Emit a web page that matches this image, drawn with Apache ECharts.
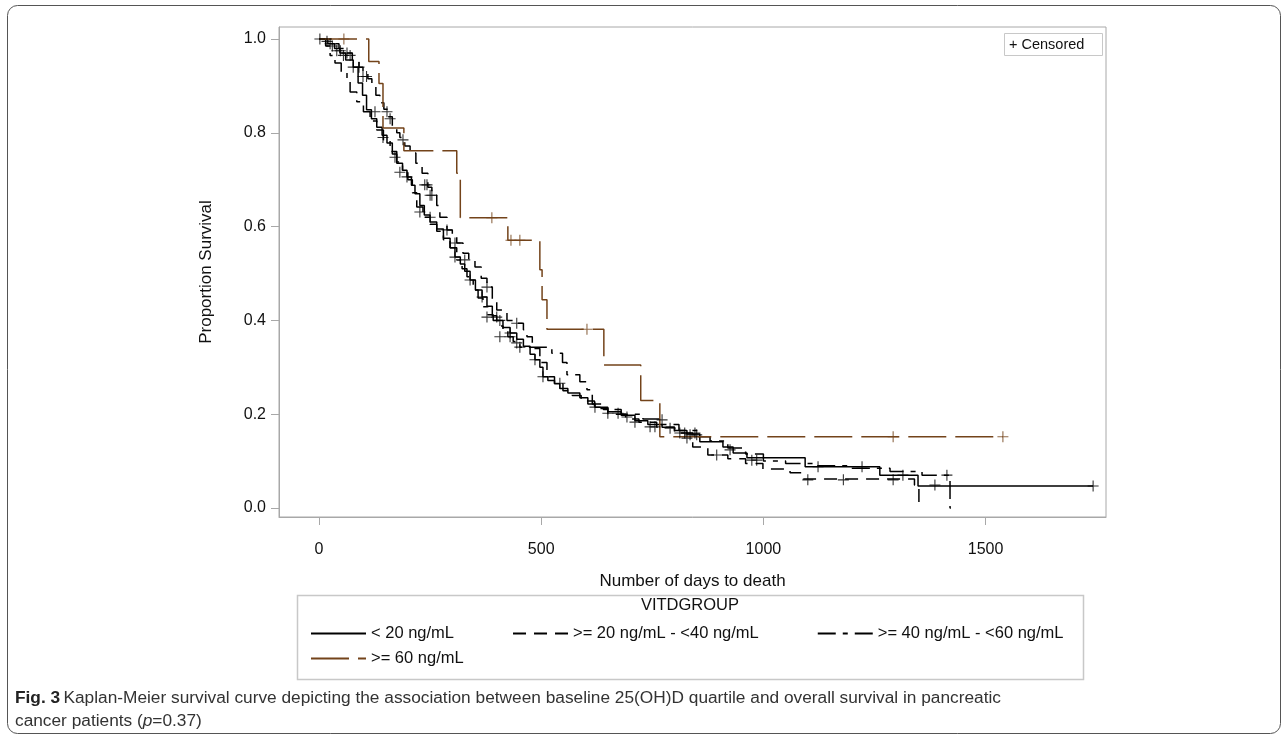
<!DOCTYPE html>
<html>
<head>
<meta charset="utf-8">
<script src="https://cdn.jsdelivr.net/npm/echarts@6/dist/echarts.min.js"></script>
<style>
html,body{margin:0;padding:0;background:#fff;}
#chart{width:1287px;height:739px;}
</style>
</head>
<body>
<div id="chart"></div>
<script>
// ---- Data (days, proportion survival) ----
const seriesNames = ['< 20 ng/mL', '>= 20 ng/mL - <40 ng/mL', '>= 40 ng/mL - <60 ng/mL', '>= 60 ng/mL'];
const xTicks = [0, 500, 1000, 1500];
const yTicks = [0, 0.2, 0.4, 0.6, 0.8, 1.0];

const lt20Steps = [[0,1],[20,0.99],[35,0.98],[47,0.97],[60,0.955],[77,0.94],[88,0.906],[98,0.88],[107,0.849],[118,0.83],[130,0.812],[142,0.795],[153,0.778],[165,0.755],[175,0.735],[188,0.72],[198,0.706],[208,0.688],[216,0.67],[227,0.645],[237,0.625],[250,0.61],[265,0.595],[280,0.575],[295,0.555],[306,0.535],[318,0.52],[328,0.505],[340,0.486],[352,0.465],[367,0.45],[378,0.43],[390,0.41],[400,0.4],[414,0.385],[430,0.373],[445,0.36],[460,0.345],[475,0.328],[486,0.316],[497,0.3],[504,0.28],[515,0.272],[530,0.265],[542,0.255],[560,0.245],[587,0.235],[605,0.222],[621,0.215],[650,0.205],[680,0.198],[711,0.186],[740,0.178],[772,0.172],[800,0.165],[828,0.158],[857,0.141],[909,0.13],[932,0.117],[963,0.107],[1094,0.088],[1262,0.07],[1348,0.047],[1742,0.047]];
const lt20Censor = [[2,1],[18,0.995],[30,0.985],[40,0.975],[55,0.965],[77,0.94],[99,0.92],[126,0.845],[182,0.716],[198,0.706],[227,0.631],[250,0.62],[306,0.535],[340,0.486],[367,0.45],[407,0.365],[430,0.373],[486,0.316],[504,0.28],[542,0.266],[621,0.215],[650,0.202],[673,0.202],[711,0.183],[745,0.173],[790,0.17],[823,0.16],[895,0.113],[974,0.102],[985,0.102],[1123,0.088],[1222,0.088],[1314,0.07],[1386,0.049],[1742,0.047]];

const g20Steps = [[0,1],[30,0.99],[45,0.98],[60,0.97],[75,0.955],[90,0.94],[99,0.93],[110,0.915],[119,0.898],[128,0.88],[137,0.864],[146,0.85],[155,0.834],[165,0.815],[175,0.8],[182,0.79],[193,0.772],[205,0.757],[218,0.735],[232,0.714],[245,0.684],[254,0.667],[265,0.645],[272,0.62],[288,0.593],[300,0.578],[310,0.565],[324,0.543],[337,0.528],[351,0.514],[365,0.49],[378,0.471],[390,0.445],[400,0.422],[423,0.4],[445,0.394],[460,0.38],[468,0.365],[480,0.34],[497,0.31],[513,0.28],[530,0.265],[549,0.25],[570,0.24],[590,0.228],[620,0.212],[650,0.2],[690,0.19],[720,0.183],[760,0.172],[800,0.16],[841,0.13],[875,0.113],[920,0.105],[960,0.095],[999,0.083],[1060,0.075],[1090,0.062],[1340,0.049],[1350,0.01],[1355,0.01]];
const g20Censor = [[25,0.99],[48,0.975],[63,0.97],[70,0.965],[90,0.94],[107,0.92],[153,0.845],[160,0.83],[189,0.785],[238,0.689],[243,0.689],[250,0.667],[254,0.667],[288,0.593],[306,0.565],[378,0.471],[400,0.407],[407,0.4],[445,0.394],[693,0.194],[756,0.173],[772,0.188],[812,0.16],[835,0.156],[1100,0.06],[1180,0.06],[1292,0.06]];

const g40Steps = [[0,1],[15,0.985],[25,0.965],[36,0.949],[50,0.93],[63,0.913],[70,0.887],[85,0.866],[100,0.845],[115,0.825],[130,0.806],[145,0.785],[160,0.76],[175,0.738],[188,0.718],[200,0.7],[210,0.672],[220,0.642],[234,0.62],[250,0.605],[265,0.59],[280,0.572],[295,0.555],[310,0.529],[322,0.51],[333,0.493],[347,0.465],[358,0.448],[369,0.429],[380,0.412],[392,0.4],[405,0.388],[414,0.378],[425,0.365],[437,0.355],[452,0.343],[524,0.33],[548,0.31],[558,0.284],[587,0.269],[603,0.252],[615,0.222],[640,0.21],[680,0.2],[729,0.19],[770,0.178],[810,0.165],[850,0.152],[880,0.143],[920,0.128],[960,0.115],[1000,0.1],[1050,0.095],[1120,0.09],[1200,0.085],[1285,0.078],[1357,0.07],[1420,0],[1422,0]];
const g40Censor = [[144,0.79],[171,0.748],[328,0.529],[378,0.407],[430,0.365],[445,0.352],[452,0.343],[828,0.149],[846,0.16],[850,0.156],[925,0.124],[1413,0.07]];

const g60Steps = [[0,1],[112,0.952],[135,0.905],[144,0.81],[191,0.762],[310,0.714],[318,0.619],[425,0.571],[497,0.508],[502,0.444],[513,0.381],[641,0.305],[724,0.229],[767,0.152],[1539,0.152]];
const g60Censor = [[56,1],[389,0.619],[432,0.571],[452,0.571],[603,0.381],[1292,0.152],[1539,0.152]];

// ---- Chart ----
const BROWN = '#73431a';
const FONT = '"Liberation Sans", Arial, sans-serif';
const plusPath = 'path://M0,5.4 L12,5.4 L12,6.6 L0,6.6 Z M5.4,0 L6.6,0 L6.6,12 L5.4,12 Z';

function stepSeries(name, data, color, dash) {
  return {
    name: name, type: 'line', step: 'end', data: data, symbol: 'none',
    color: color,
    lineStyle: {color: color, width: 1.5, type: dash},
    itemStyle: {color: color},
    emphasis: {disabled: true}, animation: false, z: 3
  };
}
function censorSeries(data, color) {
  return {
    type: 'scatter', data: data, symbol: plusPath, symbolSize: 11,
    itemStyle: {color: color}, emphasis: {disabled: true}, animation: false, z: 4,
    silent: true
  };
}
const legendCommon = {
  itemWidth: 55, itemHeight: 14, itemGap: 58,
  textStyle: {fontFamily: FONT, fontSize: 16.5, color: '#111'},
  itemStyle: {color: 'rgba(0,0,0,0)', borderWidth: 0, opacity: 0},
  selectedMode: false
};

const chart = echarts.init(document.getElementById('chart'), null, {renderer: 'canvas'});
chart.setOption({
  backgroundColor: '#fff',
  animation: false,
  grid: {left: 279, top: 27, width: 827, height: 490, show: true, borderColor: '#a8a8a8', borderWidth: 1, backgroundColor: 'transparent'},
  xAxis: {
    type: 'value', min: -90, max: 1771,
    name: 'Number of days to death', nameLocation: 'middle', nameGap: 56,
    nameTextStyle: {fontFamily: FONT, fontSize: 17, color: '#111'},
    axisLine: {show: true, onZero: false, lineStyle: {color: '#a8a8a8'}},
    axisTick: {show: true, length: 8, lineStyle: {color: '#a8a8a8'}, customValues: xTicks},
    axisLabel: {fontFamily: FONT, fontSize: 16, color: '#111', margin: 25, customValues: xTicks,
      formatter: v => String(v)},
    splitLine: {show: false}
  },
  yAxis: {
    type: 'value', min: -0.0192, max: 1.0256,
    name: 'Proportion Survival', nameLocation: 'middle', nameGap: 64, nameRotate: 90,
    nameTextStyle: {fontFamily: FONT, fontSize: 17, color: '#111'},
    axisLine: {show: true, onZero: false, lineStyle: {color: '#a8a8a8'}},
    axisTick: {show: true, length: 8, lineStyle: {color: '#a8a8a8'}, customValues: yTicks},
    axisLabel: {fontFamily: FONT, fontSize: 16, color: '#111', margin: 13, customValues: yTicks,
      formatter: v => v.toFixed(1)},
    splitLine: {show: false}
  },
  legend: [
    Object.assign({data: seriesNames.slice(0, 3), left: 305, top: 620}, legendCommon),
    Object.assign({data: seriesNames.slice(3), left: 305, top: 645}, legendCommon)
  ],
  graphic: [
    {type: 'rect', shape: {x: 7.5, y: 5.5, width: 1273, height: 728, r: 10}, style: {fill: 'none', stroke: '#555', lineWidth: 1}, z: 0},
    {type: 'rect', shape: {x: 297.5, y: 595.5, width: 786, height: 84}, style: {fill: 'none', stroke: '#c8c8c8', lineWidth: 1.5}},
    {type: 'text', x: 690, y: 597, style: {text: 'VITDGROUP', fontFamily: FONT, fontSize: 16.5, fill: '#111', textAlign: 'center', textVerticalAlign: 'top'}},
    {type: 'rect', shape: {x: 1004.5, y: 33.5, width: 98, height: 22}, style: {fill: '#fff', stroke: '#c8c8c8', lineWidth: 1}, z: 10},
    {type: 'text', x: 1009, y: 44.5, z: 11, style: {text: '+ Censored', fontFamily: FONT, fontSize: 14.5, fill: '#111', textVerticalAlign: 'middle'}},
    {type: 'text', x: 15, y: 710, style: {
      rich: {
        b: {fontFamily: FONT, fontWeight: 'bold', fontSize: 17.3, fill: '#222'},
        r: {fontFamily: FONT, fontSize: 17.3, fill: '#333'},
        i: {fontFamily: FONT, fontStyle: 'italic', fontSize: 17.3, fill: '#333'}
      },
      text: '{b|Fig. 3} {r|Kaplan-Meier survival curve depicting the association between baseline 25(OH)D quartile and overall survival in pancreatic}\n{r|cancer patients (}{i|p}{r|=0.37)}',
      lineHeight: 23, textVerticalAlign: 'middle'
    }}
  ],
  series: [
    stepSeries(seriesNames[0], lt20Steps, '#000', 'solid'),
    stepSeries(seriesNames[1], g20Steps, '#000', [13, 8]),
    stepSeries(seriesNames[2], g40Steps, '#000', [18, 7, 5, 7]),
    stepSeries(seriesNames[3], g60Steps, BROWN, [38, 9]),
    censorSeries(lt20Censor, '#000'),
    censorSeries(g20Censor, '#000'),
    censorSeries(g40Censor, '#000'),
    censorSeries(g60Censor, BROWN)
  ]
});
</script>
</body>
</html>
